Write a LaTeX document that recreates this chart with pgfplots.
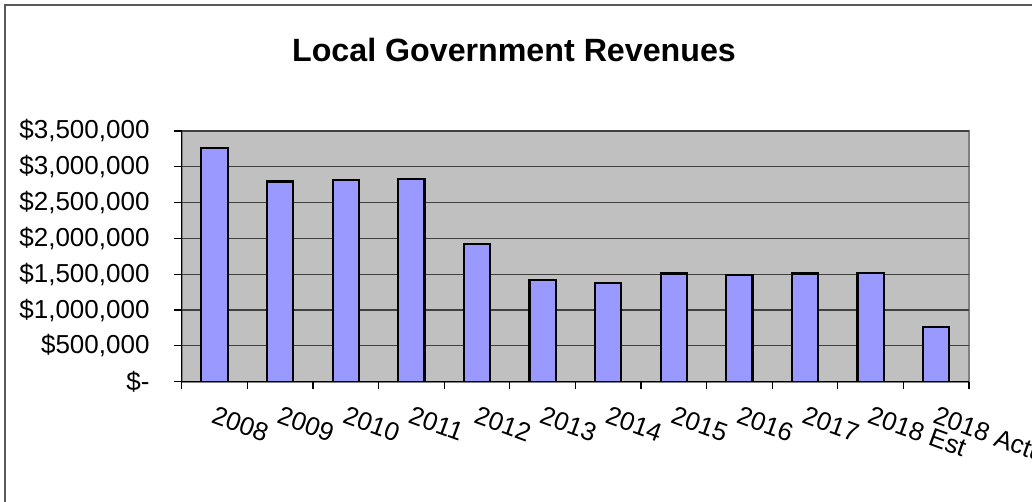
\documentclass[border=0pt]{standalone}
\usepackage{pgfplots}
\pgfplotsset{compat=1.18}
\usepackage{fontspec}
\setmainfont{Liberation Sans}
\definecolor{barfill}{HTML}{9999FF}
\definecolor{plotbg}{HTML}{C0C0C0}
\definecolor{frame}{HTML}{808080}
\begin{document}
\begin{tikzpicture}[x=1bp,y=1bp]
\draw[black!65, line width=0.9bp] (2.5,-10) rectangle (540,247.8);
\node[font=\fontsize{16.1bp}{19bp}\selectfont\bfseries, anchor=center] at (257,225.5) {Local Government Revenues};
\begin{axis}[
  at={(90.85bp,59.65bp)}, anchor=south west,
  scale only axis, width=393.65bp, height=125.35bp,
  xmin=-0.5, xmax=11.5, ymin=0, ymax=3500000,
  axis background/.style={fill=plotbg, draw=frame, line width=0.8bp},
  axis x line*=bottom, axis y line*=left,
  axis line style={-, black, line width=0.7bp},
  tick align=outside, major tick length=3.8bp,
  tick style={black, line width=0.6bp},
  scaled y ticks=false,
  ytick={0,500000,1000000,1500000,2000000,2500000,3000000,3500000},
  yticklabels={{\$-},{\$500,000},{\$1,000,000},{\$1,500,000},{\$2,000,000},{\$2,500,000},{\$3,000,000},{\$3,500,000}},
  yticklabel style={anchor=east, inner sep=0pt, xshift=-12.1bp, font=\fontsize{13bp}{15bp}\selectfont},
  ymajorgrids, grid style={black!75, line width=0.6bp},
  xtick={-0.5,0.5,...,11.5}, xticklabel={\relax},
  extra x ticks={0,1,2,3,4,5,6,7,8,9,10,11},
  extra x tick labels={2008,2009,2010,2011,2012,2013,2014,2015,2016,2017,2018 Est,2018 Actual},
  extra x tick style={major tick length=0pt, xticklabel style={xshift=0.9bp, yshift=-11.6bp, anchor=north west, inner sep=0pt, rotate=-20, font=\fontsize{12.9bp}{15bp}\selectfont}},
]
\addplot[ybar, bar width=0.4, fill=barfill, draw=black, line width=1.1bp] coordinates {
  (0,3260000) (1,2795000) (2,2820000) (3,2828000) (4,1924000) (5,1420000)
  (6,1378000) (7,1512000) (8,1490000) (9,1512000) (10,1517000) (11,766000)
};
\end{axis}
\pgfresetboundingbox
\useasboundingbox (0,0) rectangle (516,250.5);
\end{tikzpicture}
\end{document}
